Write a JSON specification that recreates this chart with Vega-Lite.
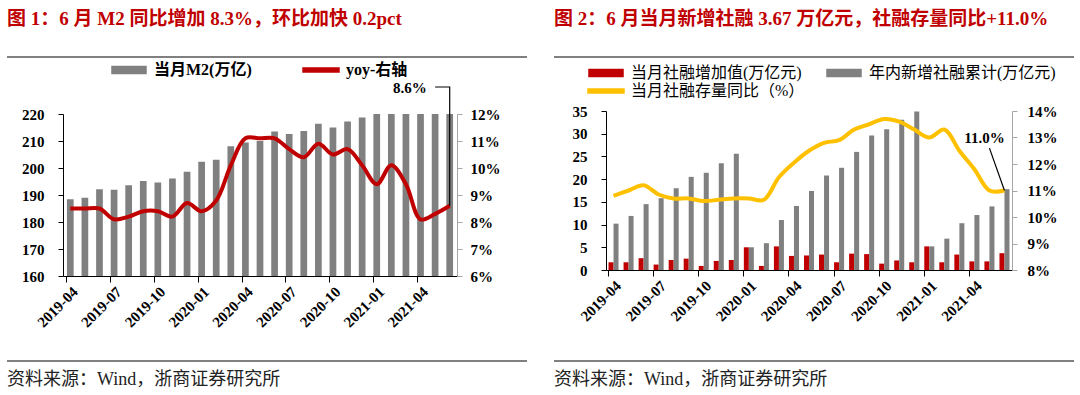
{
  "$schema": "https://vega.github.io/schema/vega-lite/v6.json",
  "background": "white",
  "padding": {"left": 7, "top": 10, "right": 0, "bottom": 0},
  "data": {"values": [{}]},
  "datasets": {
    "m2": [
      {"m":"2019-04","m2":188.4,"yoy":8.5},{"m":"2019-05","m2":189.0,"yoy":8.5},{"m":"2019-06","m2":192.1,"yoy":8.5},
      {"m":"2019-07","m2":191.9,"yoy":8.1},{"m":"2019-08","m2":193.6,"yoy":8.2},{"m":"2019-09","m2":195.2,"yoy":8.4},
      {"m":"2019-10","m2":194.6,"yoy":8.4},{"m":"2019-11","m2":196.1,"yoy":8.2},{"m":"2019-12","m2":198.6,"yoy":8.7},
      {"m":"2020-01","m2":202.3,"yoy":8.4},{"m":"2020-02","m2":203.1,"yoy":8.8},{"m":"2020-03","m2":208.1,"yoy":10.1},
      {"m":"2020-04","m2":209.4,"yoy":11.1},{"m":"2020-05","m2":210.0,"yoy":11.1},{"m":"2020-06","m2":213.5,"yoy":11.1},
      {"m":"2020-07","m2":212.6,"yoy":10.7},{"m":"2020-08","m2":213.7,"yoy":10.4},{"m":"2020-09","m2":216.4,"yoy":10.9},
      {"m":"2020-10","m2":215.0,"yoy":10.5},{"m":"2020-11","m2":217.2,"yoy":10.7},{"m":"2020-12","m2":218.7,"yoy":10.1},
      {"m":"2021-01","m2":221.3,"yoy":9.4},{"m":"2021-02","m2":223.6,"yoy":10.1},{"m":"2021-03","m2":227.7,"yoy":9.4},
      {"m":"2021-04","m2":226.2,"yoy":8.1},{"m":"2021-05","m2":227.6,"yoy":8.3},{"m":"2021-06","m2":231.8,"yoy":8.6}
    ],
    "ann1": [{"m":"2021-03","v":12.98,"label":"8.6%"}],
    "lead1": [{"m":"2021-05","v":13.0,"o":1},{"m":"2021-06","v":13.0,"o":2},{"m":"2021-06","v":8.6,"o":3}],
    "tsf": [
      {"m":"2019-04","s":"当月社融增加值(万亿元)","v":1.7},{"m":"2019-04","s":"年内新增社融累计(万亿元)","v":10.2},
      {"m":"2019-05","s":"当月社融增加值(万亿元)","v":1.7},{"m":"2019-05","s":"年内新增社融累计(万亿元)","v":11.9},
      {"m":"2019-06","s":"当月社融增加值(万亿元)","v":2.6},{"m":"2019-06","s":"年内新增社融累计(万亿元)","v":14.5},
      {"m":"2019-07","s":"当月社融增加值(万亿元)","v":1.2},{"m":"2019-07","s":"年内新增社融累计(万亿元)","v":15.8},
      {"m":"2019-08","s":"当月社融增加值(万亿元)","v":2.2},{"m":"2019-08","s":"年内新增社融累计(万亿元)","v":18.0},
      {"m":"2019-09","s":"当月社融增加值(万亿元)","v":2.5},{"m":"2019-09","s":"年内新增社融累计(万亿元)","v":20.5},
      {"m":"2019-10","s":"当月社融增加值(万亿元)","v":0.9},{"m":"2019-10","s":"年内新增社融累计(万亿元)","v":21.4},
      {"m":"2019-11","s":"当月社融增加值(万亿元)","v":2.0},{"m":"2019-11","s":"年内新增社融累计(万亿元)","v":23.5},
      {"m":"2019-12","s":"当月社融增加值(万亿元)","v":2.2},{"m":"2019-12","s":"年内新增社融累计(万亿元)","v":25.6},
      {"m":"2020-01","s":"当月社融增加值(万亿元)","v":5.0},{"m":"2020-01","s":"年内新增社融累计(万亿元)","v":5.0},
      {"m":"2020-02","s":"当月社融增加值(万亿元)","v":0.9},{"m":"2020-02","s":"年内新增社融累计(万亿元)","v":5.9},
      {"m":"2020-03","s":"当月社融增加值(万亿元)","v":5.2},{"m":"2020-03","s":"年内新增社融累计(万亿元)","v":11.0},
      {"m":"2020-04","s":"当月社融增加值(万亿元)","v":3.1},{"m":"2020-04","s":"年内新增社融累计(万亿元)","v":14.1},
      {"m":"2020-05","s":"当月社融增加值(万亿元)","v":3.2},{"m":"2020-05","s":"年内新增社融累计(万亿元)","v":17.4},
      {"m":"2020-06","s":"当月社融增加值(万亿元)","v":3.4},{"m":"2020-06","s":"年内新增社融累计(万亿元)","v":20.8},
      {"m":"2020-07","s":"当月社融增加值(万亿元)","v":1.7},{"m":"2020-07","s":"年内新增社融累计(万亿元)","v":22.5},
      {"m":"2020-08","s":"当月社融增加值(万亿元)","v":3.6},{"m":"2020-08","s":"年内新增社融累计(万亿元)","v":26.0},
      {"m":"2020-09","s":"当月社融增加值(万亿元)","v":3.5},{"m":"2020-09","s":"年内新增社融累计(万亿元)","v":29.6},
      {"m":"2020-10","s":"当月社融增加值(万亿元)","v":1.4},{"m":"2020-10","s":"年内新增社融累计(万亿元)","v":31.0},
      {"m":"2020-11","s":"当月社融增加值(万亿元)","v":2.1},{"m":"2020-11","s":"年内新增社融累计(万亿元)","v":33.1},
      {"m":"2020-12","s":"当月社融增加值(万亿元)","v":1.7},{"m":"2020-12","s":"年内新增社融累计(万亿元)","v":34.9},
      {"m":"2021-01","s":"当月社融增加值(万亿元)","v":5.2},{"m":"2021-01","s":"年内新增社融累计(万亿元)","v":5.2},
      {"m":"2021-02","s":"当月社融增加值(万亿元)","v":1.7},{"m":"2021-02","s":"年内新增社融累计(万亿元)","v":6.9},
      {"m":"2021-03","s":"当月社融增加值(万亿元)","v":3.4},{"m":"2021-03","s":"年内新增社融累计(万亿元)","v":10.3},
      {"m":"2021-04","s":"当月社融增加值(万亿元)","v":1.9},{"m":"2021-04","s":"年内新增社融累计(万亿元)","v":12.1},
      {"m":"2021-05","s":"当月社融增加值(万亿元)","v":1.9},{"m":"2021-05","s":"年内新增社融累计(万亿元)","v":14.0},
      {"m":"2021-06","s":"当月社融增加值(万亿元)","v":3.7},{"m":"2021-06","s":"年内新增社融累计(万亿元)","v":17.8}
    ],
    "tsfyoy": [
      {"m":"2019-04","yoy":10.8},{"m":"2019-05","yoy":11.0},{"m":"2019-06","yoy":11.2},{"m":"2019-07","yoy":10.85},
      {"m":"2019-08","yoy":10.7},{"m":"2019-09","yoy":10.7},{"m":"2019-10","yoy":10.6},{"m":"2019-11","yoy":10.65},
      {"m":"2019-12","yoy":10.7},{"m":"2020-01","yoy":10.7},{"m":"2020-02","yoy":10.65},{"m":"2020-03","yoy":11.5},
      {"m":"2020-04","yoy":12.05},{"m":"2020-05","yoy":12.5},{"m":"2020-06","yoy":12.8},{"m":"2020-07","yoy":12.9},
      {"m":"2020-08","yoy":13.3},{"m":"2020-09","yoy":13.5},{"m":"2020-10","yoy":13.7},{"m":"2020-11","yoy":13.6},
      {"m":"2020-12","yoy":13.3},{"m":"2021-01","yoy":13.0},{"m":"2021-02","yoy":13.3},{"m":"2021-03","yoy":12.5},
      {"m":"2021-04","yoy":11.8},{"m":"2021-05","yoy":11.0},{"m":"2021-06","yoy":11.0}
    ],
    "ann2": [{"m":"2021-05","v":13.0,"label":"11.0%"}],
    "lead2": [{"m":"2021-05","v":12.6,"o":1},{"m":"2021-06","v":11.0,"o":2}]
  },
  "config": {
    "view": {"stroke": null},
    "font": "Liberation Serif, Noto Sans CJK SC",
    "axis": {"grid": false, "labelFont": "Liberation Serif", "labelFontWeight": "bold", "labelColor": "black", "labelFontSize": 15, "domainColor": "black", "tickColor": "black", "tickSize": 5, "labelOverlap": false}
  },
  "spacing": 27,
  "resolve": {"scale": {"color": "independent"}, "legend": {"color": "independent"}},
  "hconcat": [
    {
      "columns": 3, "spacing": 0, "bounds": "flush", "align": "each",
      "resolve": {"scale": {"color": "independent"}, "legend": {"color": "independent"}},
      "concat": [
        {"width": 56, "height": 2, "view": {"fill": "#808080", "stroke": null}, "mark": {"type": "point", "opacity": 0},
         "title": {"text": "图 1：6 月 M2 同比增加 8.3%，环比加快 0.2pct", "anchor": "start", "frame": "group", "orient": "top", "offset": 10, "baseline": "alphabetic", "align": "left", "fontSize": 19, "fontWeight": "bold", "color": "#C00000", "font": "Liberation Serif, Noto Sans CJK SC"}},
        {"width": 394, "height": 2, "view": {"fill": "#808080", "stroke": null}, "mark": {"type": "point", "opacity": 0}},
        {"width": 70, "height": 2, "view": {"fill": "#808080", "stroke": null}, "mark": {"type": "point", "opacity": 0}},
        {"width": 56, "height": 56, "mark": {"type": "point", "opacity": 0}},
        {"width": 394, "height": 56, "mark": {"type": "point", "opacity": 0}},
        {"width": 70, "height": 56, "mark": {"type": "point", "opacity": 0}},
        {"width": 56, "height": 162, "mark": {"type": "point", "opacity": 0}},
        {
          "width": 394, "height": 162,
          "encoding": {"x": {"field": "m", "type": "ordinal", "title": null,
            "scale": {"paddingInner": 0.54, "paddingOuter": 0.27},
            "axis": {"values": ["2019-04","2019-07","2019-10","2020-01","2020-04","2020-07","2020-10","2021-01","2021-04"], "bandPosition": 0, "labelAngle": -45, "labelAlign": "right", "labelBaseline": "top", "labelFontSize": 15, "tickSize": 6, "labelPadding": 2}}},
          "layer": [
            {"data": {"name": "m2"}, "mark": {"type": "bar", "clip": true},
             "encoding": {
               "y": {"field": "m2", "type": "quantitative", "title": null, "scale": {"domain": [160, 220], "zero": false, "nice": false},
                     "axis": {"values": [160,170,180,190,200,210,220], "labelPadding": 14}},
               "color": {"datum": "当月M2(万亿)", "type": "nominal",
                 "scale": {"domain": ["当月M2(万亿)", "yoy-右轴"], "range": ["#808080", "#C00000"]},
                 "legend": {"title": null, "orient": "none", "legendX": 58, "legendY": -52, "direction": "horizontal", "columns": 2, "columnPadding": 48, "padding": 0,
                   "symbolSize": 100, "labelFont": "Liberation Serif, Noto Sans CJK SC", "labelFontSize": 16, "labelFontWeight": "bold", "labelColor": "black", "labelOffset": 17, "labelLimit": 400,
                   "encode": {"symbols": {"update": {
                     "shape": {"signal": "datum.value === '当月M2(万亿)' ? 'M-3.4,-0.7H3.4V0.7H-3.4Z' : 'M-3.6,-0.38H3.6V0.38H-3.6Z'"},
                     "fill": {"signal": "datum.value === '当月M2(万亿)' ? '#808080' : '#C00000'"},
                     "stroke": {"value": "transparent"}, "opacity": {"value": 1}}}}}}
             }},
            {"layer": [
              {"data": {"name": "m2"}, "mark": {"type": "line", "interpolate": "catmull-rom", "strokeWidth": 4},
               "encoding": {
                 "y": {"field": "yoy", "type": "quantitative", "title": null, "scale": {"domain": [6, 12], "zero": false, "nice": false},
                       "axis": {"orient": "right", "values": [6,7,8,9,10,11,12], "labelExpr": "datum.value + '%'", "domainColor": "#A6A6A6", "tickColor": "#A6A6A6", "labelPadding": 8, "labelOverlap": false}},
                 "color": {"datum": "yoy-右轴", "type": "nominal"}}},
              {"data": {"name": "ann1"}, "mark": {"type": "text", "font": "Liberation Serif", "fontWeight": "bold", "fontSize": 15, "color": "black", "dx": 4, "baseline": "middle"},
               "encoding": {"y": {"field": "v", "type": "quantitative", "title": null, "scale": {"domain": [6, 12], "zero": false, "nice": false},
                       "axis": {"orient": "right", "values": [6,7,8,9,10,11,12], "labelExpr": "datum.value + '%'", "domainColor": "#A6A6A6", "tickColor": "#A6A6A6", "labelPadding": 8, "labelOverlap": false}}, "text": {"field": "label"}}},
              {"data": {"name": "lead1"}, "mark": {"type": "line", "color": "black", "strokeWidth": 1.2},
               "encoding": {"y": {"field": "v", "type": "quantitative", "title": null, "scale": {"domain": [6, 12], "zero": false, "nice": false},
                       "axis": {"orient": "right", "values": [6,7,8,9,10,11,12], "labelExpr": "datum.value + '%'", "domainColor": "#A6A6A6", "tickColor": "#A6A6A6", "labelPadding": 8, "labelOverlap": false}}, "order": {"field": "o"}}}
            ]}
          ],
          "resolve": {"scale": {"y": "independent"}}
        },
        {"width": 70, "height": 162, "mark": {"type": "point", "opacity": 0}},
        {"width": 56, "height": 84, "mark": {"type": "point", "opacity": 0}},
        {"width": 394, "height": 84, "mark": {"type": "point", "opacity": 0}},
        {"width": 70, "height": 84, "mark": {"type": "point", "opacity": 0}},
        {"width": 56, "height": 2, "view": {"fill": "#808080", "stroke": null}, "mark": {"type": "point", "opacity": 0},
         "title": {"text": "资料来源：Wind，浙商证券研究所", "anchor": "start", "frame": "group", "orient": "bottom", "offset": 21, "baseline": "alphabetic", "align": "left", "fontSize": 18, "fontWeight": "normal", "color": "#222222", "font": "Liberation Serif, Noto Sans CJK SC"}},
        {"width": 394, "height": 2, "view": {"fill": "#808080", "stroke": null}, "mark": {"type": "point", "opacity": 0}},
        {"width": 70, "height": 2, "view": {"fill": "#808080", "stroke": null}, "mark": {"type": "point", "opacity": 0}}
      ]
    },
    {
      "columns": 3, "spacing": 0, "bounds": "flush", "align": "each",
      "resolve": {"scale": {"color": "independent"}, "legend": {"color": "independent"}},
      "concat": [
        {"width": 52, "height": 2, "view": {"fill": "#808080", "stroke": null}, "mark": {"type": "point", "opacity": 0},
         "title": {"text": "图 2：6 月当月新增社融 3.67 万亿元，社融存量同比+11.0%", "anchor": "start", "frame": "group", "orient": "top", "offset": 10, "baseline": "alphabetic", "align": "left", "fontSize": 19, "fontWeight": "bold", "color": "#C00000", "font": "Liberation Serif, Noto Sans CJK SC"}},
        {"width": 406, "height": 2, "view": {"fill": "#808080", "stroke": null}, "mark": {"type": "point", "opacity": 0}},
        {"width": 62, "height": 2, "view": {"fill": "#808080", "stroke": null}, "mark": {"type": "point", "opacity": 0}},
        {"width": 52, "height": 53, "mark": {"type": "point", "opacity": 0}},
        {"width": 406, "height": 53, "mark": {"type": "point", "opacity": 0}},
        {"width": 62, "height": 53, "mark": {"type": "point", "opacity": 0}},
        {"width": 52, "height": 159, "mark": {"type": "point", "opacity": 0}},
        {
          "width": 406, "height": 159,
          "encoding": {"x": {"field": "m", "type": "ordinal", "title": null,
            "scale": {"paddingInner": 0.333, "paddingOuter": 0.167},
            "axis": {"values": ["2019-04","2019-07","2019-10","2020-01","2020-04","2020-07","2020-10","2021-01","2021-04"], "bandPosition": 0, "labelAngle": -45, "labelAlign": "right", "labelBaseline": "top", "labelFontSize": 15, "tickSize": 6, "labelPadding": 2}}},
          "layer": [
            {"data": {"name": "tsf"}, "mark": {"type": "bar"},
             "encoding": {
               "xOffset": {"field": "s", "type": "nominal", "scale": {"domain": ["当月社融增加值(万亿元)", "年内新增社融累计(万亿元)"], "paddingInner": 0, "paddingOuter": 0}},
               "y": {"field": "v", "type": "quantitative", "title": null, "scale": {"domain": [0, 35], "nice": false},
                     "axis": {"values": [0,5,10,15,20,25,30,35], "labelPadding": 14}},
               "color": {"field": "s", "type": "nominal",
                 "scale": {"domain": ["当月社融增加值(万亿元)", "年内新增社融累计(万亿元)", "当月社融存量同比（%）"], "range": ["#C00000", "#808080", "#FFC000"]},
                 "legend": {"title": null, "orient": "none", "legendX": -8, "legendY": -46, "direction": "horizontal", "columns": 2, "columnPadding": 19, "rowPadding": 2, "padding": 0,
                   "symbolSize": 100, "labelFont": "Liberation Serif, Noto Sans CJK SC", "labelFontSize": 16, "labelFontWeight": "normal", "labelColor": "black", "labelOffset": 17, "labelLimit": 400,
                   "encode": {"symbols": {"update": {
                     "shape": {"signal": "datum.value === '当月社融存量同比（%）' ? 'M-3.6,-0.38H3.6V0.38H-3.6Z' : 'M-3.4,-0.7H3.4V0.7H-3.4Z'"},
                     "fill": {"signal": "datum.value === '当月社融增加值(万亿元)' ? '#C00000' : (datum.value === '年内新增社融累计(万亿元)' ? '#808080' : '#FFC000')"},
                     "stroke": {"value": "transparent"}, "opacity": {"value": 1}}}}}}
             }},
            {"layer": [
              {"data": {"name": "tsfyoy"}, "mark": {"type": "line", "interpolate": "catmull-rom", "strokeWidth": 4},
               "encoding": {
                 "y": {"field": "yoy", "type": "quantitative", "title": null, "scale": {"domain": [8, 14], "zero": false, "nice": false},
                       "axis": {"orient": "right", "values": [8,9,10,11,12,13,14], "labelExpr": "datum.value + '%'", "domainColor": "#A6A6A6", "tickColor": "#A6A6A6", "labelPadding": 10, "labelOverlap": false}},
                 "color": {"datum": "当月社融存量同比（%）", "type": "nominal"}}},
              {"data": {"name": "ann2"}, "mark": {"type": "text", "font": "Liberation Serif", "fontWeight": "bold", "fontSize": 15, "color": "black", "dx": -5, "baseline": "middle"},
               "encoding": {"y": {"field": "v", "type": "quantitative", "title": null, "scale": {"domain": [8, 14], "zero": false, "nice": false},
                       "axis": {"orient": "right", "values": [8,9,10,11,12,13,14], "labelExpr": "datum.value + '%'", "domainColor": "#A6A6A6", "tickColor": "#A6A6A6", "labelPadding": 10, "labelOverlap": false}}, "text": {"field": "label"}}},
              {"data": {"name": "lead2"}, "mark": {"type": "line", "color": "black", "strokeWidth": 1.2},
               "encoding": {"y": {"field": "v", "type": "quantitative", "title": null, "scale": {"domain": [8, 14], "zero": false, "nice": false},
                       "axis": {"orient": "right", "values": [8,9,10,11,12,13,14], "labelExpr": "datum.value + '%'", "domainColor": "#A6A6A6", "tickColor": "#A6A6A6", "labelPadding": 10, "labelOverlap": false}}, "order": {"field": "o"}}}
            ]}
          ],
          "resolve": {"scale": {"y": "independent"}}
        },
        {"width": 62, "height": 159, "mark": {"type": "point", "opacity": 0}},
        {"width": 52, "height": 90, "mark": {"type": "point", "opacity": 0}},
        {"width": 406, "height": 90, "mark": {"type": "point", "opacity": 0}},
        {"width": 62, "height": 90, "mark": {"type": "point", "opacity": 0}},
        {"width": 52, "height": 2, "view": {"fill": "#808080", "stroke": null}, "mark": {"type": "point", "opacity": 0},
         "title": {"text": "资料来源：Wind，浙商证券研究所", "anchor": "start", "frame": "group", "orient": "bottom", "offset": 21, "baseline": "alphabetic", "align": "left", "fontSize": 18, "fontWeight": "normal", "color": "#222222", "font": "Liberation Serif, Noto Sans CJK SC"}},
        {"width": 406, "height": 2, "view": {"fill": "#808080", "stroke": null}, "mark": {"type": "point", "opacity": 0}},
        {"width": 62, "height": 2, "view": {"fill": "#808080", "stroke": null}, "mark": {"type": "point", "opacity": 0}}
      ]
    }
  ]
}
